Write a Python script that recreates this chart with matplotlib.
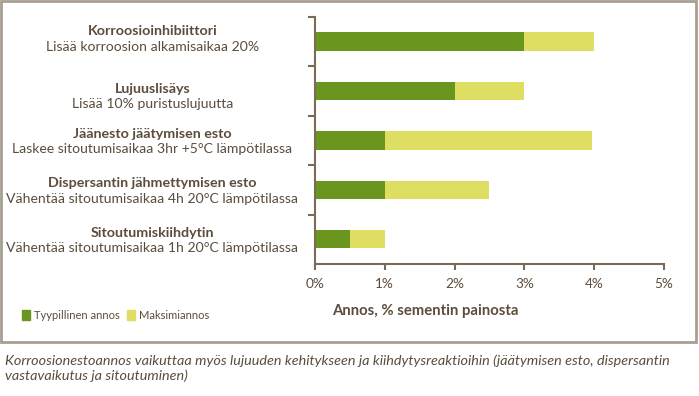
import matplotlib
matplotlib.use("Agg")
import matplotlib.pyplot as plt
from matplotlib.patches import Patch, Rectangle

plt.rcParams['font.family'] = ['Lato', 'DejaVu Sans']

# data
titles = ["Korroosioinhibiittori", "Lujuuslisäys", "Jäänesto jäätymisen esto",
          "Dispersantin jähmettymisen esto", "Sitoutumiskiihdytin"]
subtitles = ["Lisää korroosion alkamisaikaa 20%", "Lisää 10% puristuslujuutta",
             "Laskee sitoutumisaikaa 3hr +5°C lämpötilassa",
             "Vähentää sitoutumisaikaa 4h 20°C lämpötilassa",
             "Vähentää sitoutumisaikaa 1h 20°C lämpötilassa"]
typical = [3.0, 2.0, 1.0, 1.0, 0.5]
maximum = [4.0, 3.0, 3.97, 2.5, 1.0]
xticks = [0, 1, 2, 3, 4, 5]
xlabels = ["0%", "1%", "2%", "3%", "4%", "5%"]

green = "#6a961f"
yellow = "#dedf62"
brown = "#5c4c3c"
axcol = "#7a6a58"

fig = plt.figure(figsize=(6.99, 3.96), dpi=100)
fig.patches.append(Rectangle((0.002, 0.137), 0.994, 0.86, transform=fig.transFigure,
                             fill=False, edgecolor="#a89e92", linewidth=2))
ax = fig.add_axes([0.4506, 0.3333, 0.4993, 0.624])

pos = list(range(len(titles)))
extra = [m - t for m, t in zip(maximum, typical)]
ax.barh(pos, typical, height=0.37, color=green, zorder=2)
ax.barh(pos, extra, left=typical, height=0.37, color=yellow, zorder=2)

ax.set_ylim(4.5, -0.5)
ax.set_xlim(0, 5)
ax.set_yticks([-0.5, 0.5, 1.5, 2.5, 3.5])
ax.set_yticklabels([])
ax.set_xticks(xticks)
ax.set_xticklabels(xlabels)
ax.tick_params(axis='y', direction='out', length=5, width=1.5, color=axcol)
ax.tick_params(axis='x', direction='out', length=4, width=1.5, color=axcol,
               labelsize=9.8, labelcolor=brown, pad=6)
for s in ["top", "right"]:
    ax.spines[s].set_visible(False)
for s in ["left", "bottom"]:
    ax.spines[s].set_color(axcol)
    ax.spines[s].set_linewidth(1.5)

shift = [-0.08, 0.08, 0.0, 0.0, 0.0]
for i in pos:
    ax.text(-2.33, i - 0.13 + shift[i], titles[i], ha='center', va='center', fontsize=10.3,
            fontweight='bold', color=brown, clip_on=False)
    ax.text(-2.33, i + 0.18 + shift[i], subtitles[i], ha='center', va='center', fontsize=10.1,
            color=brown, clip_on=False)

fig.text(0.608, 0.215, "Annos, % sementin painosta", ha='center', va='center',
         fontsize=10.7, fontweight='bold', color=brown)

handles = [Patch(color=green, label="Tyypillinen annos"),
           Patch(color=yellow, label="Maksimiannos")]
fig.legend(handles=handles, loc='center left', bbox_to_anchor=(0.017, 0.203), ncol=2,
           frameon=False, handlelength=0.75, handleheight=1.0,
           handletextpad=0.35, columnspacing=0.6, labelcolor=brown,
           prop={'size': 8})

fig.text(0.007, 0.07, "Korroosionestoannos vaikuttaa myös lujuuden kehitykseen ja kiihdytysreaktioihin (jäätymisen esto, dispersantin\nvastavaikutus ja sitoutuminen)",
         ha='left', va='center', fontsize=10.4, style='italic', color=brown, linespacing=1.25)

fig.savefig("out.png", dpi=100)
